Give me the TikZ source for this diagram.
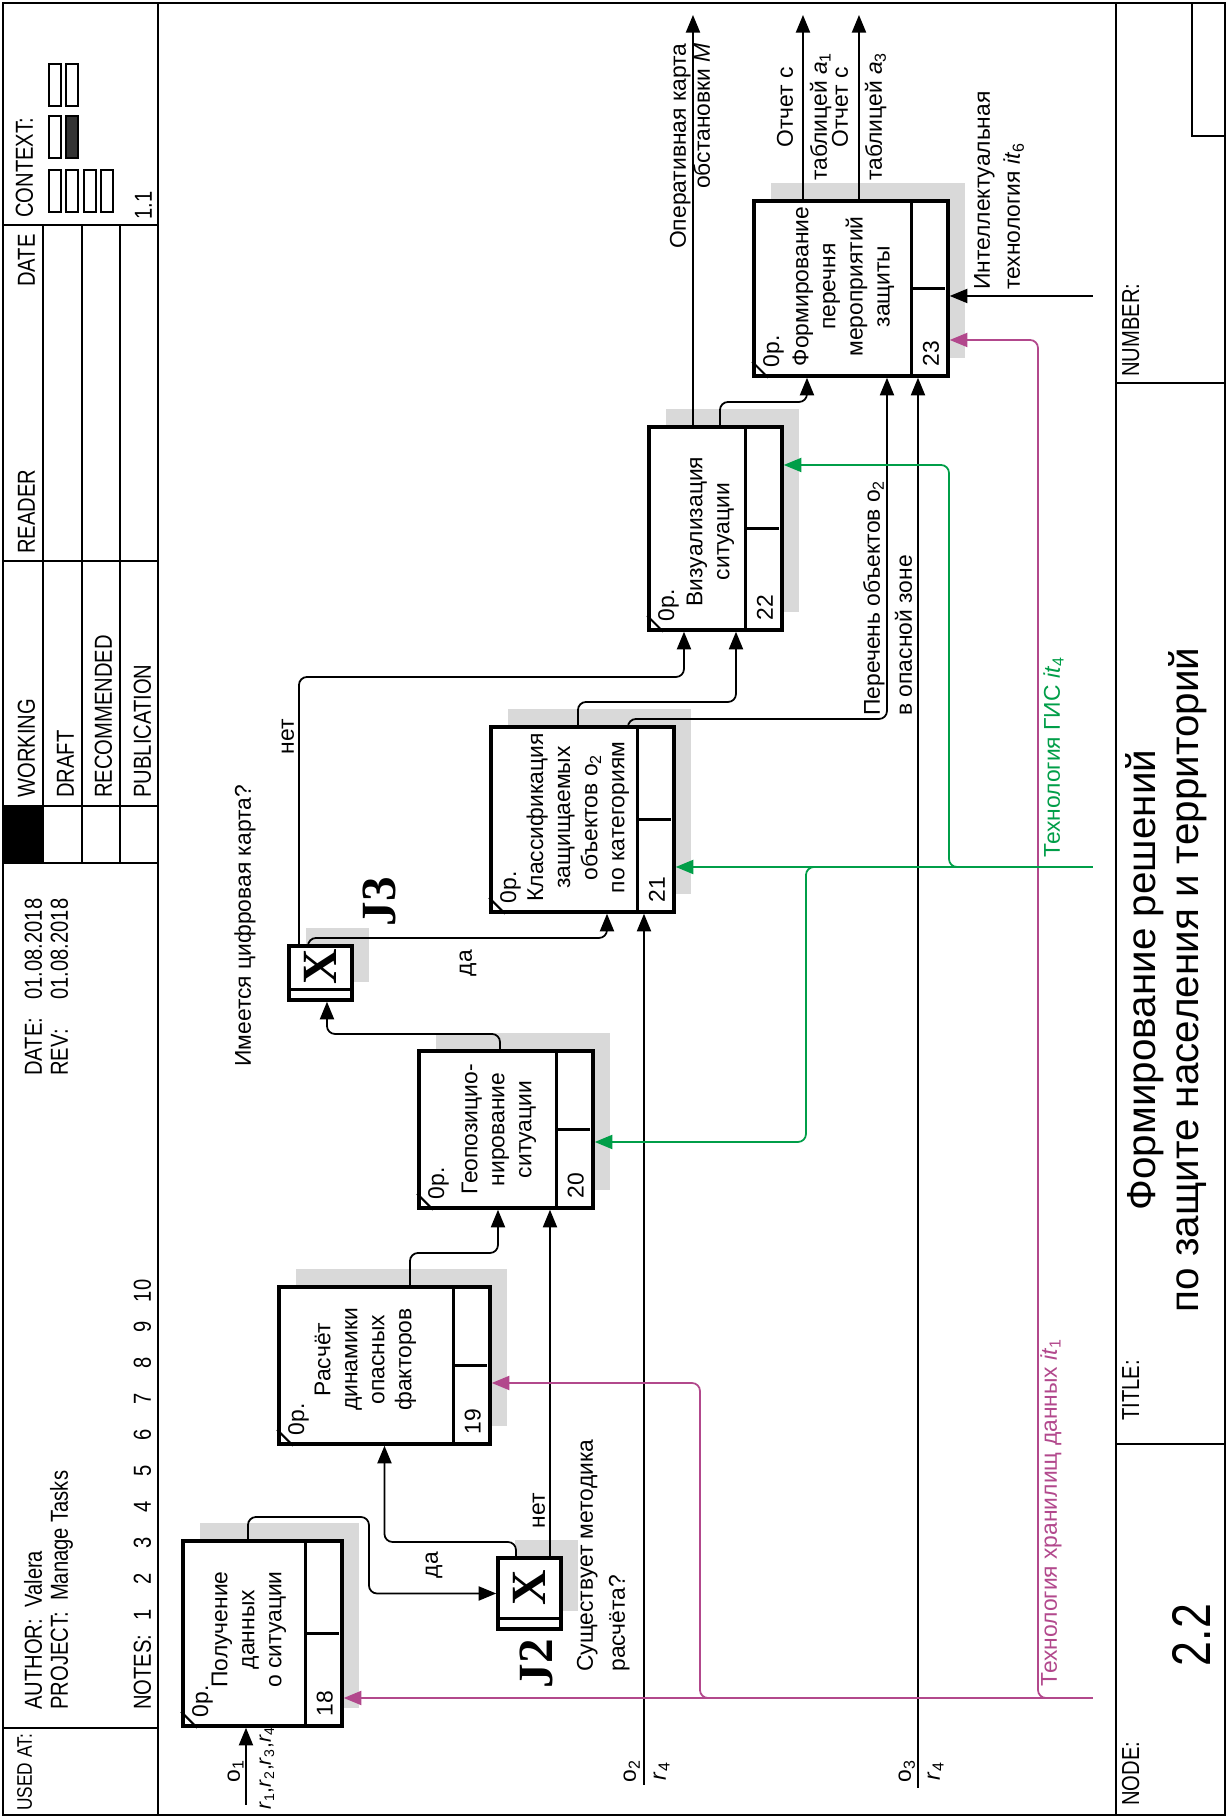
\documentclass[tikz,border=0pt]{standalone}
\usepackage{fontspec}
\setmainfont{Liberation Sans}
\newfontfamily\narrowfont{Liberation Sans}[FakeStretch=0.82]
\newfontfamily\jfont{Liberation Serif}
\usetikzlibrary{arrows.meta, calc}

\definecolor{mechmag}{RGB}{178,72,140}
\definecolor{mechgreen}{RGB}{0,158,72}

\newcommand{\vsub}[2]{\textit{#1}\textsubscript{#2}}

% unit of work: name, x, y, width, height, number
\newcommand{\uob}[6]{%
  \fill[boxshade] (#2-#4/2+18,#3-#5/2-17) rectangle ++(#4,#5);
  \node[uob, minimum width=#4*0.2mm, minimum height=#5*0.2mm] (#1) at (#2,#3) {};
  \draw[uobrule] ($(#1.south west)+(0,38)$) -- ($(#1.south east)+(-4,38)$);
  \draw[uobrule] ($(#1.south)+(0,38)$) -- ($(#1.south)+(0,5)$);
  \draw[line width=1.2pt] ($(#1.north west)+(0,-16)$) -- ($(#1.north west)+(16,0)$);
  \node[anchor=base west, inner sep=0pt] (#1num) at ($(#1.south west)+(11,11)$) {#6};
  \node[anchor=base west, inner sep=0pt] (#1op) at ($(#1.north west)+(10,-27)$) {0p.};
}
% junction: name, x, y, width, height
\newcommand{\junc}[5]{%
  \fill[boxshade] (#2-#4/2+18,#3-#5/2-17) rectangle ++(#4,#5);
  \node[uob, minimum width=#4*0.2mm, minimum height=#5*0.2mm] (#1) at (#2,#3) {};
  \draw[line width=1.6pt] ($(#1.south west)+(12,0)$) -- ($(#1.north west)+(12,0)$);
  \node[jlbl, inner sep=0pt] (#1x) at ($(#1.center)+(6,0)$) {X};
}

\begin{document}
\begin{tikzpicture}[x=0.2mm, y=0.2mm, font=\fontsize{13}{15.4}\selectfont,
  frame/.style={line width=0.9pt},
  hdr/.style={font=\narrowfont\fontsize{14}{16}\selectfont, inner sep=0pt},
  uob/.style={draw, line width=2pt, fill=white, inner sep=0pt},
  uobrule/.style={line width=1.8pt},
  uobtext/.style={anchor=north, align=center, inner sep=0pt},
  jlbl/.style={font=\jfont\bfseries\fontsize{28}{28}\selectfont},
  boxshade/.style={fill=black!15},
  lbl/.style={inner sep=0pt},
  flow/.style={line width=1pt, rounded corners=1.6mm, -{Triangle[length=10pt,width=8pt]}},
]
\begin{scope}[rotate=90, transform shape]
\useasboundingbox (0,0) rectangle (1818,1228);
\fill[white] (0,0) rectangle (1818,1228);

% form
\draw[line width=1pt] (3,3) rectangle (1815,1225);
\draw[frame] (3,1070) -- (1815,1070);
\draw[line width=1.4pt] (3,112) -- (1815,112);
\foreach \x in {90,955,1012,1257,1593}
  \draw[frame] (\x,1070) -- (\x,1225);
\foreach \y in {1108,1146,1185}
  \draw[frame] (955,\y) -- (1593,\y);
\fill (955,1185) rectangle (1012,1225);
\draw[frame] (374,3) -- (374,112);
\draw[frame] (1435,3) -- (1435,112);
\draw[frame] (1682,3) -- (1682,36) -- (1815,36);

\node[hdr, font=\narrowfont\fontsize{12}{14}\selectfont, anchor=base west] (usedat) at (7,1196) {USED AT:};
\node[hdr, anchor=base west] (author) at (108,1186) {AUTHOR:\ \ Valera};
\node[hdr, anchor=base west] (project) at (108,1160) {PROJECT:\ \ Manage Tasks};
\node[hdr, anchor=base west] (notes) at (108,1077) {NOTES:};
\foreach \n in {1,...,10}
  \node[hdr, anchor=base] (note\n) at (203+36*\n-36,1077) {\n};
\node[hdr, anchor=base west] (date) at (742,1186) {DATE:};
\node[hdr, anchor=base west] (dateval) at (818,1186) {01.08.2018};
\node[hdr, anchor=base west] (rev) at (742,1160) {REV:};
\node[hdr, anchor=base west] (revval) at (818,1160) {01.08.2018};
\node[hdr, anchor=base west] (working) at (1020,1193) {WORKING};
\node[hdr, anchor=base west] (draft) at (1020,1154) {DRAFT};
\node[hdr, anchor=base west] (recom) at (1020,1116) {RECOMMENDED};
\node[hdr, anchor=base west] (public) at (1020,1077) {PUBLICATION};
\node[hdr, anchor=base west] (reader) at (1264,1193) {READER};
\node[hdr, anchor=base east] (rdate) at (1584,1193) {DATE};
\node[hdr, anchor=base west] (context) at (1600,1195) {CONTEXT:};
\node[hdr, anchor=base west] (ctxnum) at (1598,1076) {1.1};
\foreach \x/\y/\f in {1606/1167/white, 1606/1150/white, 1606/1132/white, 1606/1115/white,
                      1660/1167/white, 1660/1150/black!80, 1712/1167/white, 1712/1150/white}
  \draw[line width=0.6pt, fill=\f] (\x,\y) rectangle ++(42,12);

\node[hdr, anchor=base west] (nodelbl) at (12,89) {NODE:};
\node[font=\narrowfont\fontsize{31}{31}\selectfont, inner sep=0pt] (nodenum) at (183,37) {2.2};
\node[hdr, anchor=base west] (titlelbl) at (397,89) {TITLE:};
\node[font=\fontsize{23}{27}\selectfont, anchor=base, inner sep=0pt] (title1) at (838,72) {Формирование решений};
\node[font=\fontsize{23}{27}\selectfont, anchor=base, inner sep=0pt] (title2) at (838,30) {по защите населения и территорий};
\node[hdr, anchor=base west] (numlbl) at (1441,89) {NUMBER:};

% units of work and junctions
\uob{b18}{184.5}{965.5}{185}{159}{18}
\uob{b19}{452.5}{843.5}{157}{211}{19}
\uob{b20}{688.5}{722}{157}{174}{20}
\uob{b21}{998.5}{645.5}{185}{183}{21}
\uob{b22}{1289.5}{512.5}{203}{133}{22}
\uob{b23}{1529.5}{377}{175}{194}{23}
\junc{j2}{224.5}{698.5}{71}{63}
\junc{j3}{845}{907.5}{54}{63}

\node[uobtext] (t18) at ($(b18.north)+(4,-30)$) {Получение\\данных\\о ситуации};
\node[uobtext] (t19) at ($(b19.north)+(6,-37)$) {Расчёт\\динамики\\опасных\\факторов};
\node[uobtext] (t20) at ($(b20.north)+(0,-44)$) {Геопозицио-\\нирование\\ситуации};
\node[uobtext] (t21) at ($(b21.north)+(2,-37)$) {Классификация\\защищаемых\\объектов o\textsubscript{2}\\по категориям};
\node[uobtext] (t22) at ($(b22.north)+(-3,-39)$) {Визуализация\\ситуации};
\node[uobtext] (t23) at ($(b23.north)+(2,-40)$) {Формирование\\перечня\\мероприятий\\защиты};

\node[jlbl, inner sep=0pt] (j2lbl) at (154,692) {J2};
\node[jlbl, inner sep=0pt] (j3lbl) at (916,849) {J3};
\node[lbl, anchor=base west] (q2a) at (146,635) {Существует методика};
\node[lbl, anchor=base west] (q2b) at (146,603) {расчёта?};
\node[lbl, anchor=base west] (q3) at (751,977) {Имеется цифровая карта?};

% boundary ends
\coordinate (in1) at (13,982);
\coordinate (in2) at (33,584);
\coordinate (in3) at (30,310);
\coordinate (in4) at (951,135);
\coordinate (in6) at (1522,135);
\coordinate (in7) at (120,135);
\coordinate (out1) at (1803,535);
\coordinate (out2) at (1803,425);
\coordinate (out3) at (1803,369);

% flows
\draw[flow] (in1) -- ($(b18.west)+(0,16.5)$);
\draw[flow] ($(b18.east)+(0,14.5)$) -- (301,980) -- (301,859) -- (224.5,859) -- (j2.north);
\draw[flow] ($(j2.east)+(0,13.5)$) -- (276,712) -- (276,843.5) -- (b19.west);
\draw[flow] ($(j2.east)+(0,-20.5)$) -- ($(b20.west)+(0,-44)$);
\draw[flow] ($(b19.east)+(0,-25.5)$) -- (565,818) -- (565,730) -- ($(b20.west)+(0,8)$);
\draw[flow] ($(b20.east)+(0,6)$) -- (784,728) -- (784,901) -- ($(j3.west)+(0,-6.5)$);
\draw[flow] ($(j3.east)+(0,12.5)$) -- (880,920) -- (880,621) -- ($(b21.west)+(0,-24.5)$);
\draw[flow] ($(j3.east)+(0,21.5)$) -- (1141,929) -- (1141,544) -- ($(b22.west)+(0,31.5)$);
\draw[flow] ($(b21.east)+(0,4.5)$) -- (1116,650) -- (1116,492) -- ($(b22.west)+(0,-20.5)$);
\draw[flow] ($(b21.east)+(0,-45.5)$) -- (1099,600) -- (1099,341) -- ($(b23.west)+(0,-36)$);
\draw[flow] ($(b22.east)+(0,22.5)$) -- (out1);
\draw[flow] ($(b22.east)+(0,-4.5)$) -- (1416,508) -- (1416,421) -- ($(b23.west)+(0,44)$);
\draw[flow] ($(b23.east)+(0,48)$) -- (out2);
\draw[flow] ($(b23.east)+(0,-8)$) -- (out3);
\draw[flow] (in2) -- ($(b21.west)+(0,-61.5)$);
\draw[flow] (in3) -- ($(b23.west)+(0,-67)$);
\draw[flow] (in6) -- ($(b23.south)+(-7.5,0)$);

\draw[flow, mechmag] (in7) -- ($(b18.south)+(-64.5,0)$);
\draw[flow, mechmag] (in7) -- (120,528) -- (435,528) -- ($(b19.south)+(-17.5,0)$);
\draw[flow, mechmag] (in7) -- (120,190) -- (1478,190) -- ($(b23.south)+(-51.5,0)$);
\draw[flow, mechgreen] (in4) -- ($(b21.south)+(-47.5,0)$);
\draw[flow, mechgreen] (in4) -- (951,422) -- (676,422) -- ($(b20.south)+(-12.5,0)$);
\draw[flow, mechgreen] (in4) -- (951,279) -- (1353,279) -- ($(b22.south)+(63.5,0)$);

% flow labels
\node[lbl, anchor=base] (da2) at (253,790) {да};
\node[lbl, anchor=base] (net2) at (307,683) {нет};
\node[lbl, anchor=base] (da3) at (855,756) {да};
\node[lbl, anchor=base] (net3) at (1081,934) {нет};
\node[lbl, anchor=base] (o1) at (47,988) {o\textsubscript{1}};
\node[lbl, anchor=base, font=\fontsize{12}{14}\selectfont] (r1) at (50,957) {\vsub{r}{1},\vsub{r}{2},\vsub{r}{3},\vsub{r}{4}};
\node[lbl, anchor=base] (o2) at (47,592) {o\textsubscript{2}};
\node[lbl, anchor=base] (r2) at (47,562) {\vsub{r}{4}};
\node[lbl, anchor=base] (o3) at (47,317) {o\textsubscript{3}};
\node[lbl, anchor=base] (r3) at (47,288) {\vsub{r}{4}};
\node[lbl, anchor=base east] (map1) at (1775,542) {Оперативная карта};
\node[lbl, anchor=base east] (map2) at (1775,518) {обстановки \textit{M}};
\node[lbl, anchor=base east] (rep1a) at (1751,435) {Отчет с};
\node[lbl, anchor=base east] (rep1b) at (1766,401) {таблицей \vsub{a}{1}};
\node[lbl, anchor=base east] (rep3a) at (1751,380) {Отчет с};
\node[lbl, anchor=base east] (rep3b) at (1766,346) {таблицей \vsub{a}{3}};
\node[lbl, anchor=base west] (list1) at (1102,348) {Перечень объектов o\textsubscript{2}};
\node[lbl, anchor=base west] (list2) at (1102,316) {в опасной зоне};
\node[lbl, anchor=base west] (it6a) at (1528,238) {Интеллектуальная};
\node[lbl, anchor=base west] (it6b) at (1528,208) {технология \vsub{it}{6}};
\node[lbl, anchor=base west, text=mechmag] (it1) at (131,171) {Технология хранилищ данных \vsub{it}{1}};
\node[lbl, anchor=base west, text=mechgreen] (it4) at (960,168) {Технология ГИС \vsub{it}{4}};
\end{scope}
\end{tikzpicture}
\end{document}
